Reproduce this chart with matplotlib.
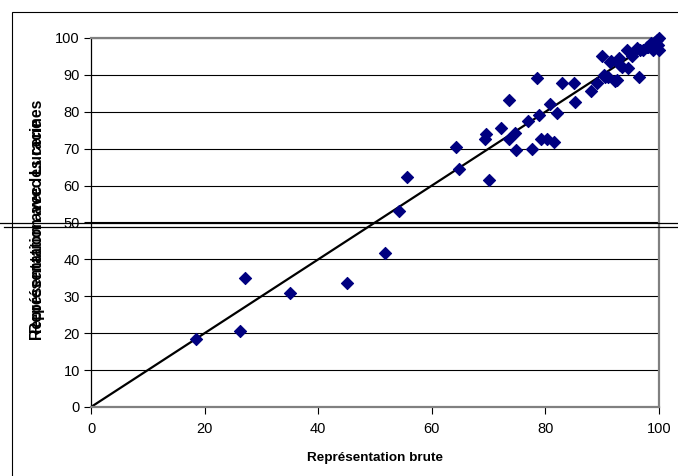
import matplotlib
matplotlib.use("Agg")
import matplotlib.pyplot as plt
from matplotlib.lines import Line2D
from matplotlib.patches import Rectangle

# ==== DONNÉES ====
# Score obtenu avec la représentation brute (axe x)
x_brute = [18.5, 26.3, 27.2, 35.1, 45.0, 51.7, 54.3, 55.7, 64.2, 64.8,
           70.0, 69.4, 69.6, 72.1, 73.6, 73.6, 74.6, 74.8, 77.0, 77.6,
           78.6, 78.8, 79.3, 80.3, 80.8, 81.5, 82.1, 83.0, 85.0, 85.2,
           88.1, 89.0, 89.9, 90.3, 90.5, 91.1, 91.4, 91.5, 92.3, 92.6,
           93.0, 93.1, 93.4, 94.3, 94.6, 95.2, 96.1, 96.5, 96.7, 97.2,
           97.8, 98.1, 98.6, 99.0, 99.3, 99.6, 99.8, 100.0, 100.0]
# Score obtenu avec Lucene / les racines (axe y)
y_lucene = [18.3, 20.7, 35.0, 30.8, 33.5, 41.7, 53.2, 62.4, 70.5, 64.4,
            61.5, 72.5, 74.0, 75.5, 83.3, 72.5, 74.2, 69.6, 77.6, 69.8,
            89.1, 79.1, 72.7, 72.5, 82.1, 71.9, 79.8, 87.9, 87.7, 82.7,
            85.7, 87.9, 95.1, 90.0, 89.5, 89.5, 93.6, 93.8, 88.4, 88.6,
            94.5, 92.7, 92.2, 96.7, 91.8, 95.0, 97.2, 89.3, 96.7, 96.7,
            97.6, 97.6, 98.6, 96.7, 99.0, 99.5, 98.0, 100.0, 96.7]

x_ticks = [0, 20, 40, 60, 80, 100]
y_ticks = [0, 10, 20, 30, 40, 50, 60, 70, 80, 90, 100]
# =================

plt.rcParams["font.family"] = ["Liberation Sans", "DejaVu Sans"]

W, H = 678, 476
fig = plt.figure(figsize=(W / 100, H / 100), dpi=100)
fig.patch.set_facecolor("white")

# cadre du graphique
fig.add_artist(Rectangle((12 / W, -0.1), 1.2, 1.1 - 12 / H, transform=fig.transFigure,
                         fill=False, edgecolor="black", linewidth=0.8))

ax = fig.add_axes([91 / W, (H - 407) / H, (659 - 91) / W, (407 - 38) / H])
ax.set_xlim(0, 100)
ax.set_ylim(0, 100)

# grille horizontale
for v in y_ticks[1:]:
    ax.axhline(v, color="black", linewidth=0.8, zorder=1)

# diagonale y = x
ax.plot([0, 100], [0, 100], color="black", linewidth=1.6, zorder=2)

ax.scatter(x_brute, y_lucene, marker="D", s=38, color="#000080",
           edgecolors="#000080", linewidths=0.8, zorder=3, clip_on=False)

for side in ["top", "right", "bottom"]:
    ax.spines[side].set_color("#808080")
    ax.spines[side].set_linewidth(1.6)
ax.spines["left"].set_color("black")
ax.spines["left"].set_linewidth(0.9)

ax.set_xticks(x_ticks)
ax.set_yticks(y_ticks)
ax.tick_params(axis="both", direction="out", color="black", width=0.8,
               labelsize=10.5, length=5)
ax.tick_params(axis="y", pad=3)
ax.tick_params(axis="x", pad=6)

ax.set_xlabel("Représentation brute", fontsize=9.7, fontweight="bold", labelpad=11)

# deux libellés superposés sur l'axe y
fig.text(38 / W, 1 - 340 / H, "Représentation avec les racines", rotation=90,
         fontsize=11.3, fontweight="bold", ha="center", va="bottom")
fig.text(38 / W, 1 - 333 / H, "Représentation avec Lucene", rotation=90,
         fontsize=11.3, fontweight="bold", ha="center", va="bottom")

# double trait horizontal traversant la figure
fig.add_artist(Line2D([0, 1], [1 - 222.5 / H, 1 - 222.5 / H], transform=fig.transFigure,
                      color="black", linewidth=0.9))
fig.add_artist(Line2D([4 / W, 1], [1 - 226.8 / H, 1 - 226.8 / H], transform=fig.transFigure,
                      color="black", linewidth=0.9))

fig.savefig("out.png", dpi=100)
